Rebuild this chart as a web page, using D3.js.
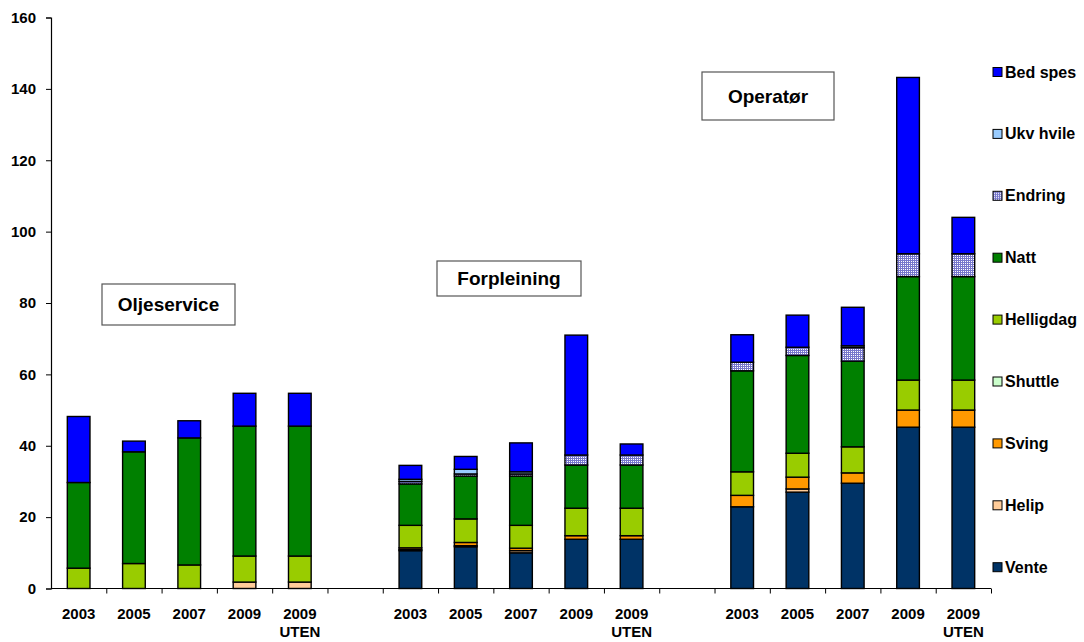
<!DOCTYPE html>
<html>
<head>
<meta charset="utf-8">
<script src="https://cdn.jsdelivr.net/npm/d3@7"></script>
<style>
  html, body { margin: 0; padding: 0; background: #fff; }
  svg { display: block; }
  text { font-family: "Liberation Sans", Arial, sans-serif; font-weight: bold; fill: #000; }
</style>
</head>
<body>
<svg id="chart" width="1084" height="642"></svg>
<script>
// Sector groups and the years shown inside each group
const groups = ["Oljeservice", "Forpleining", "Operatør"];
const years = ["2003", "2005", "2007", "2009", "2009\nUTEN"];

// Series values: 15 entries each, Oljeservice ×5, Forpleining ×5, Operatør ×5
const vente     = [0, 0, 0, 0, 0,        10.6, 11.7, 10.0, 13.8, 13.8,   22.9, 27.0, 29.5, 45.2, 45.2];
const helip     = [0, 0, 0, 1.8, 1.8,    0.3, 0.3, 0.6, 0, 0,            0, 0.9, 0, 0, 0];
const sving     = [0, 0, 0, 0, 0,        0.5, 0.9, 0.7, 1.0, 1.0,        3.2, 3.3, 2.9, 4.8, 4.8];
const shuttle   = [0, 0, 0, 0, 0,        0, 0, 0, 0, 0,                  0, 0, 0, 0, 0];
const helligdag = [5.7, 7.0, 6.6, 7.3, 7.3,   6.3, 6.6, 6.4, 7.7, 7.7,   6.6, 6.7, 7.3, 8.4, 8.4];
const natt      = [24.0, 31.3, 35.6, 36.4, 36.4,  11.6, 12.0, 13.8, 12.1, 12.1,  28.3, 27.4, 24.0, 29.0, 29.0];
const endring   = [0, 0, 0, 0, 0,        0.7, 0.6, 0.6, 2.8, 2.8,        2.4, 2.3, 3.8, 6.4, 6.4];
const ukvHvile  = [0, 0, 0, 0, 0,        0.6, 1.3, 0.6, 0, 0,            0, 0, 0.5, 0, 0];
const bedSpes   = [18.5, 3.0, 4.8, 9.2, 9.2,  3.9, 3.6, 8.1, 33.6, 3.1,  7.7, 9.0, 10.8, 49.4, 10.2];

// Stack order, bottom to top
const seriesNames = ["Vente", "Helip", "Sving", "Shuttle", "Helligdag", "Natt", "Endring", "Ukv hvile", "Bed spes"];
const seriesValues = [vente, helip, sving, shuttle, helligdag, natt, endring, ukvHvile, bedSpes];
const seriesFill = {
  "Vente": "#003366",
  "Helip": "#FFCC99",
  "Sving": "#FF9900",
  "Shuttle": "#CCFFCC",
  "Helligdag": "#99CC00",
  "Natt": "#008000",
  "Endring": "url(#grid)",
  "Ukv hvile": "#99CCFF",
  "Bed spes": "#0000FF"
};

const yTicks = [0, 20, 40, 60, 80, 100, 120, 140, 160];

const svg = d3.select("#chart");

// Fine blue grid used for "Endring"
const defs = svg.append("defs");
const pat = defs.append("pattern")
  .attr("id", "grid").attr("patternUnits", "userSpaceOnUse")
  .attr("width", 2).attr("height", 2);
pat.append("rect").attr("width", 2).attr("height", 2).attr("fill", "#ffffff");
pat.append("rect").attr("width", 2).attr("height", 1).attr("fill", "#7777cc");
pat.append("rect").attr("width", 1).attr("height", 2).attr("fill", "#7777cc");

// Build a row per bar; each group occupies 5 slots followed by one empty slot
const rows = [];
groups.forEach((g, gi) => {
  years.forEach((yr, yi) => {
    const idx = gi * 5 + yi;
    const row = { slot: gi * 6 + yi, year: yr, group: g };
    seriesNames.forEach((s, si) => { row[s] = seriesValues[si][idx]; });
    rows.push(row);
  });
});

const plotLeft = 51, plotRight = 991, plotTop = 17.5, plotBottom = 588.5;
const nSlots = 17;

const x = d3.scaleBand().domain(d3.range(nSlots)).range([plotLeft, plotRight]).paddingInner(0).paddingOuter(0);
const xEdges = d3.scaleLinear().domain([0, nSlots]).range([plotLeft, plotRight]);
const y = d3.scaleLinear().domain([0, 160]).range([plotBottom, plotTop]);

const barW = x.bandwidth() * 0.41;

const stacked = d3.stack().keys(seriesNames)(rows);

const layer = svg.append("g");
stacked.forEach(ser => {
  const name = ser.key;
  layer.append("g")
    .selectAll("rect")
    .data(ser.filter(d => d[1] - d[0] > 0))
    .join("rect")
    .attr("x", d => x(d.data.slot) + (x.bandwidth() - barW) / 2)
    .attr("width", barW)
    .attr("y", d => y(d[1]))
    .attr("height", d => y(d[0]) - y(d[1]))
    .attr("fill", seriesFill[name])
    .attr("stroke", "#000")
    .attr("stroke-width", 1.4);
});

// Y axis
const yAxis = svg.append("g")
  .attr("transform", `translate(${plotLeft},0)`)
  .call(d3.axisLeft(y).tickValues(yTicks).tickSize(5).tickPadding(10).tickFormat(d3.format("d")));
yAxis.select(".domain").attr("stroke", "#000").attr("stroke-width", 1.2);
yAxis.selectAll(".tick line").attr("stroke", "#000");
yAxis.selectAll("text").style("font-size", "15px").style("font-family", "'Liberation Sans', Arial, sans-serif").style("font-weight", "bold");

// X axis with tick marks at slot boundaries
const xAxis = svg.append("g")
  .attr("transform", `translate(0,${plotBottom})`)
  .call(d3.axisBottom(xEdges).tickValues(d3.range(1, nSlots + 1)).tickSize(5).tickFormat(""));
xAxis.select(".domain").attr("stroke", "#000").attr("stroke-width", 1.2).attr("d", `M${plotLeft},0H${plotRight}`);
xAxis.selectAll(".tick line").attr("stroke", "#000");

// Category labels
const lbl = svg.append("g").selectAll("text").data(rows).join("text")
  .attr("text-anchor", "middle")
  .style("font-size", "15px")
  .attr("transform", d => `translate(${x(d.slot) + x.bandwidth() / 2},619)`);
lbl.each(function(d) {
  const lines = d.year.split("\n");
  const t = d3.select(this);
  lines.forEach((ln, i) => {
    t.append("tspan").attr("x", 0).attr("dy", i === 0 ? 0 : 18).text(ln);
  });
});

// Group title boxes
const titleBoxes = [
  { text: groups[0], x: 102, y: 284, w: 133, h: 41 },
  { text: groups[1], x: 437, y: 261, w: 144, h: 35 },
  { text: groups[2], x: 702, y: 72, w: 132, h: 48 }
];
const tb = svg.append("g").selectAll("g").data(titleBoxes).join("g");
tb.append("rect")
  .attr("x", d => d.x).attr("y", d => d.y).attr("width", d => d.w).attr("height", d => d.h)
  .attr("fill", "#fff").attr("stroke", "#555").attr("stroke-width", 1.2);
tb.append("text")
  .attr("x", d => d.x + d.w / 2).attr("y", d => d.y + d.h / 2)
  .attr("text-anchor", "middle").attr("dominant-baseline", "central")
  .style("font-size", "19px")
  .text(d => d.text);

// Legend, top entry is the top of the stack
const legendItems = seriesNames.slice().reverse();
const lg = svg.append("g").selectAll("g").data(legendItems).join("g")
  .attr("transform", (d, i) => `translate(993,${72 + i * 61.9})`);
lg.append("rect").attr("x", 0).attr("y", -4.5).attr("width", 9).attr("height", 9)
  .attr("fill", d => seriesFill[d]).attr("stroke", "#000").attr("stroke-width", 1);
lg.append("text").attr("x", 12).attr("y", 0).attr("dominant-baseline", "central")
  .style("font-size", "16px").text(d => d);
</script>
</body>
</html>
